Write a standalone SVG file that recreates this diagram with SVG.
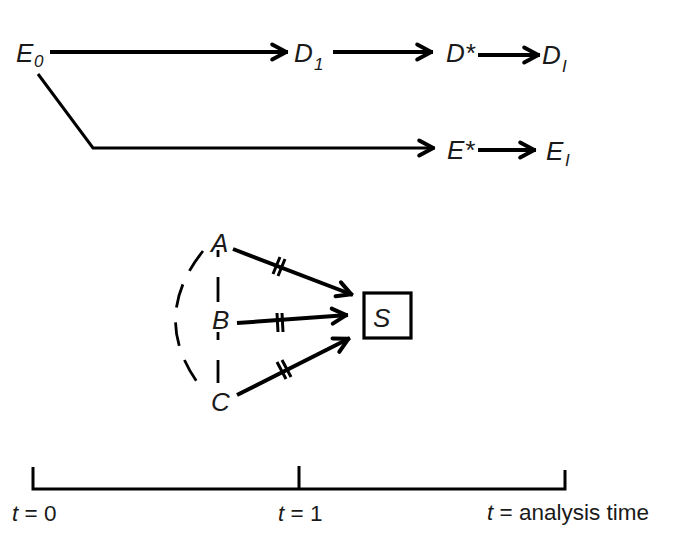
<svg xmlns="http://www.w3.org/2000/svg" width="686" height="556" viewBox="0 0 686 556">
<style>
text{font-family:"Liberation Sans",Arial,sans-serif;fill:#1a1a1a}
.v{font-size:26px;font-style:italic}
.sub{font-size:17px;font-style:italic}
.t{font-size:22.5px}
.ln{fill:none;stroke:#000;stroke-width:4}
.thin{fill:none;stroke:#000;stroke-width:3}
.tick{fill:none;stroke:#000;stroke-width:3}
.dash{fill:none;stroke:#000;stroke-width:2.8}
</style>
<defs>
<marker id="ah" markerUnits="userSpaceOnUse" viewBox="-20 -11 24 22" refX="1.8" refY="0" markerWidth="24" markerHeight="22" orient="auto">
<path d="M-14,-7.5 L0,0 L-14,7.5" fill="none" stroke="#000" stroke-width="4" stroke-linejoin="round" stroke-linecap="round"/>
</marker>
</defs>
<rect width="686" height="556" fill="#fff"/>
<g id="connectors">
<path class="ln" d="M50,52 H288" marker-end="url(#ah)"/>
<path class="ln" d="M333,52 H433" marker-end="url(#ah)"/>
<path class="ln" d="M478,55 H540" marker-end="url(#ah)"/>
<path class="thin" d="M38,74 L93,148 H435" marker-end="url(#ah)"/>
<path class="ln" d="M478,150 H536" marker-end="url(#ah)"/>
<path class="ln" d="M233,249 L353,295" marker-end="url(#ah)"/>
<path class="ln" d="M237,323 L348,315" marker-end="url(#ah)"/>
<path class="ln" d="M237,395 L350,338" marker-end="url(#ah)"/>
<g id="ticks">
<path class="tick" d="M280,257 L273,274 M285,259 L278,276"/>
<path class="tick" d="M277,313 L278,332 M282,313 L283,332"/>
<path class="tick" d="M277,362 L286,379 M282,360 L291,377"/>
</g>
<g id="dashed">
<path class="dash" d="M218,250 V257 M218,277 V302 M218,332 V340 M218,360 V383"/>
<path class="dash" d="M203,251 Q148,320 203,390" stroke-dasharray="24 15"/>
</g>
</g>
<g id="node-E0"><text class="v" x="16" y="62">E</text><text class="sub" x="34" y="67">0</text></g>
<g id="node-D1"><text class="v" x="294" y="62">D</text><text class="sub" x="314" y="70">1</text></g>
<g id="node-Dstar"><text class="v" x="446" y="62">D*</text></g>
<g id="node-DI"><text class="v" x="542" y="64">D</text><text class="sub" x="562" y="72">I</text></g>
<g id="node-Estar"><text class="v" x="447" y="159">E*</text></g>
<g id="node-EI"><text class="v" x="546" y="160">E</text><text class="sub" x="565" y="166">I</text></g>
<g id="node-A"><text class="v" x="211" y="252">A</text></g>
<g id="node-B"><text class="v" x="212" y="329">B</text></g>
<g id="node-C"><text class="v" x="211" y="411">C</text></g>
<g id="node-S"><rect x="364" y="293" width="47" height="45" fill="none" stroke="#000" stroke-width="3.2"/><text class="v" x="373" y="327">S</text></g>
<g id="timeline">
<path class="thin" d="M33,467 V489 H565 V470 M299,466 V489"/>
<text class="t" x="12" y="521"><tspan font-style="italic">t</tspan> = 0</text>
<text class="t" x="278" y="521"><tspan font-style="italic">t</tspan> = 1</text>
<text class="t" x="487" y="520"><tspan font-style="italic">t</tspan> = analysis time</text>
</g>
</svg>
